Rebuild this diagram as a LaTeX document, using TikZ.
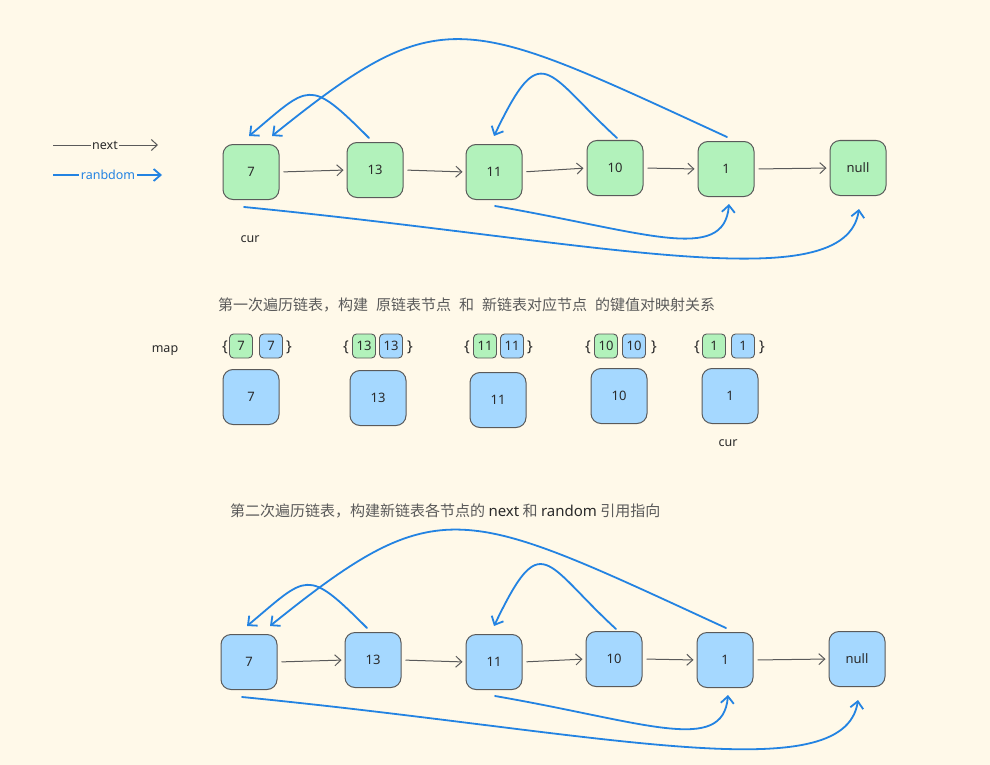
\documentclass[tikz,border=0pt]{standalone}
\usepackage{fontspec}
\setmainfont{Noto Sans}
\newfontfamily\cjk{Noto Sans CJK SC}
\usetikzlibrary{arrows.meta,calc}
\definecolor{bg}{HTML}{FFF9E9}
\definecolor{gfill}{HTML}{B2F2BB}
\definecolor{bfill}{HTML}{A5D8FF}
\definecolor{edge}{HTML}{5A5A5A}
\definecolor{rblue}{HTML}{2383E2}
\definecolor{ink}{HTML}{2A2A2A}
\begin{document}
\begin{tikzpicture}[x=1pt,y=-1pt,
  box/.style={draw=edge,line width=1pt,rounded corners=10pt,minimum width=56pt,minimum height=55pt,inner sep=0pt,text=ink,font=\fontsize{13}{15}\selectfont},
  gnode/.style={box,fill=gfill},
  bnode/.style={box,fill=bfill},
  sbox/.style={draw=edge,line width=0.9pt,rounded corners=4pt,minimum width=23pt,minimum height=24pt,inner sep=0pt,text=ink,font=\fontsize{13}{15}\selectfont},
  sg/.style={sbox,fill=gfill},
  sb/.style={sbox,fill=bfill},
  lbl/.style={text=ink,font=\fontsize{12.5}{14}\selectfont},
  brace/.style={text=ink,font=\fontsize{15}{16}\selectfont,inner sep=0pt},
  nxt/.style={draw=edge,line width=1pt,-{Straight Barb[length=6pt,width=11pt]},shorten <=4pt,shorten >=3pt},
  rnd/.style={draw=rblue,line width=1.8pt,line cap=round,-{Straight Barb[length=7pt,width=13pt]}},
  cjktext/.style={text=edge,font=\cjk\fontsize{15}{17}\selectfont,anchor=west,inner sep=0pt}
]
\useasboundingbox (0,0) rectangle (990,765);
\fill[bg] (0,0) rectangle (990,765);

% legend
\coordinate (ln1) at (53,145);
\coordinate (ln2) at (158,145);
\coordinate (lr1) at (53,175);
\coordinate (lr2) at (162,175);
\draw[draw=edge,line width=1pt,-{Straight Barb[length=6pt,width=11pt]}] (ln1) -- (ln2);
\node[fill=bg,inner sep=1.5pt,lbl] (lnext) at (105,145) {next};
\draw[draw=rblue,line width=1.8pt,-{Straight Barb[length=7pt,width=12pt]}] (lr1) -- (lr2);
\node[fill=bg,inner sep=1.5pt,text=rblue,font=\fontsize{12.5}{14}\selectfont] (lrand) at (108,175) {ranbdom};

% top row
\node[gnode] (a7) at (251,172) {7};
\node[gnode] (a13) at (375,170) {13};
\node[gnode] (a11) at (494,172) {11};
\node[gnode] (a10) at (615,168) {10};
\node[gnode] (a1) at (726,169) {1};
\node[gnode] (anull) at (858,168) {null};
\draw[nxt] (a7.east) -- (a13.west);
\draw[nxt] (a13.east) -- (a11.west);
\draw[nxt] (a11.east) -- (a10.west);
\draw[nxt] (a10.east) -- (a1.west);
\draw[nxt] (a1.east) -- (anull.west);
\draw[rnd] ($(a13.north)+(-6,-4)$) .. controls +(-61,-61) and +(61,-51) .. ($(a7.north)+(-2,-8)$);
\draw[rnd] ($(a1.north)+(1,-4)$) .. controls +(-265,-122) and +(170,-137) .. ($(a7.north)+(21,-8)$);
\draw[rnd] ($(a10.north)+(2,-2)$) .. controls +(-72,-66) and +(48,-100) .. ($(a11.north)+(0,-8)$);
\draw[rnd] ($(a11.south)+(1,6)$) .. controls +(150,26) and +(-5,60) .. ($(a1.south)+(3,7)$);
\draw[rnd] ($(a7.south)+(-7,7)$) .. controls +(356,35) and +(-14,92) .. ($(anull.south)+(1,13)$);
\node[lbl] (cur1) at (250,239) {cur};

% middle
\node[cjktext] (t1) at (218,305) {第一次遍历链表，构建\hspace{8pt}原链表节点\hspace{8pt}和\hspace{8pt}新链表对应节点\hspace{8pt}的键值对映射关系};
\node[lbl] (map) at (165,351) {map};
\foreach \g/\b/\l/\r/\v/\n in {241/271/225/289/7/p1, 364/391/346/410/13/p2, 485/512/467/530/11/p3, 606/634/588/654/10/p4, 714/743/697/762/1/p5}{
  \node[brace] (\n L) at (\l,347) {\{};
  \node[sg] (\n G) at (\g,346) {\v};
  \node[sb] (\n B) at (\b,346) {\v};
  \node[brace] (\n R) at (\r,347) {\}};
}
\node[bnode] (m7) at (251,397) {7};
\node[bnode] (m13) at (378,398) {13};
\node[bnode] (m11) at (498,400) {11};
\node[bnode] (m10) at (619,396) {10};
\node[bnode] (m1) at (730,396) {1};
\node[lbl] (cur2) at (728,443) {cur};

% bottom
\node[cjktext] (t2) at (230,511) {第二次遍历链表，构建新链表各节点的 {\fontspec{Noto Sans}\bfseries\color{ink}next} 和 {\fontspec{Noto Sans}\bfseries\color{ink}random} 引用指向};
\node[bnode] (c7) at (249,662) {7};
\node[bnode] (c13) at (373,660) {13};
\node[bnode] (c11) at (494,662) {11};
\node[bnode] (c10) at (614,659) {10};
\node[bnode] (c1) at (725,660) {1};
\node[bnode] (cnull) at (857,659) {null};
\draw[nxt] (c7.east) -- (c13.west);
\draw[nxt] (c13.east) -- (c11.west);
\draw[nxt] (c11.east) -- (c10.west);
\draw[nxt] (c10.east) -- (c1.west);
\draw[nxt] (c1.east) -- (cnull.west);
\draw[rnd] ($(c13.north)+(-6,-4)$) .. controls +(-61,-61) and +(61,-51) .. ($(c7.north)+(-2,-8)$);
\draw[rnd] ($(c1.north)+(1,-4)$) .. controls +(-265,-122) and +(170,-137) .. ($(c7.north)+(21,-8)$);
\draw[rnd] ($(c10.north)+(2,-2)$) .. controls +(-72,-66) and +(48,-100) .. ($(c11.north)+(0,-8)$);
\draw[rnd] ($(c11.south)+(1,6)$) .. controls +(150,26) and +(-5,60) .. ($(c1.south)+(3,7)$);
\draw[rnd] ($(c7.south)+(-7,7)$) .. controls +(356,35) and +(-14,92) .. ($(cnull.south)+(1,13)$);
\end{tikzpicture}
\end{document}
